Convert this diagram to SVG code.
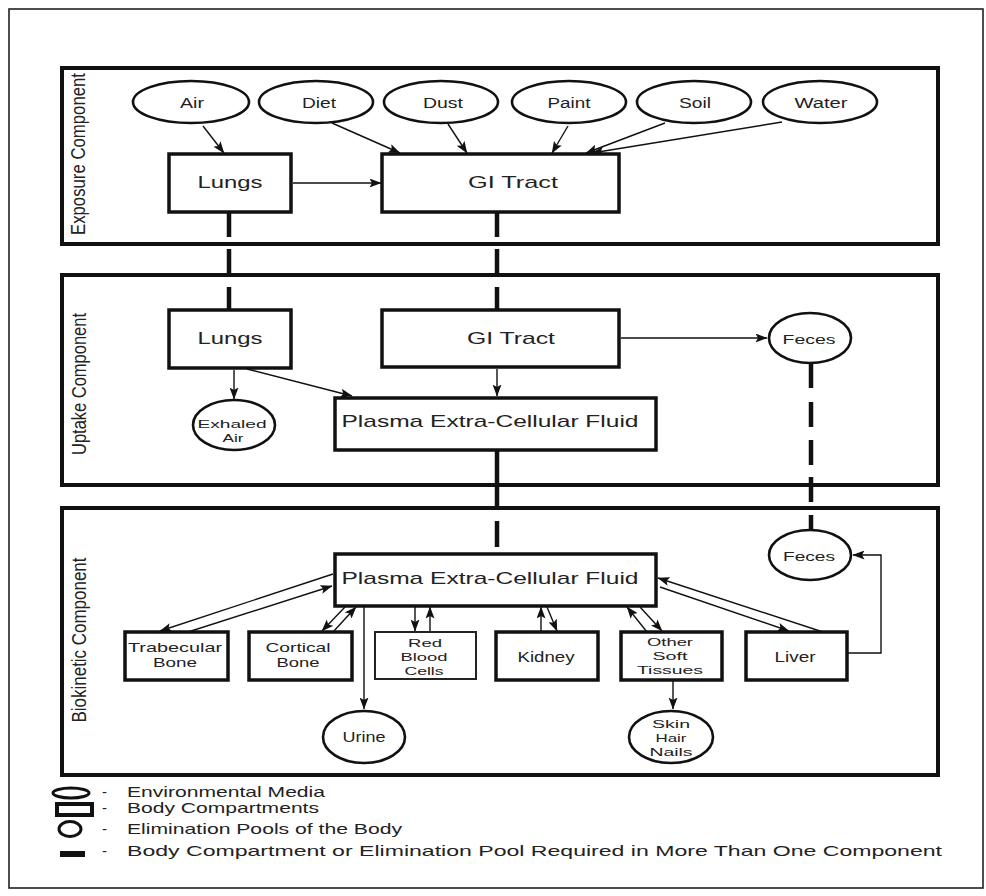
<svg xmlns="http://www.w3.org/2000/svg" width="986" height="896" viewBox="0 0 986 896">
<style>
  .sec{fill:none;stroke:#111;stroke-width:4}
  .box{fill:#fff;stroke:#111;stroke-width:3.5}
  .thin{fill:#fff;stroke:#222;stroke-width:2}
  .ell{fill:#fff;stroke:#111;stroke-width:2.6}
  .arr{fill:none;stroke:#111;stroke-width:1.4;marker-end:url(#ah)}
  .dash{stroke:#111;stroke-width:4.5;stroke-linecap:butt}
  text{font-family:"Liberation Sans",Arial,sans-serif;fill:#222}
  .lb{font-size:17px;text-anchor:middle}
  .sm{font-size:14px;text-anchor:middle}
  .xs{font-size:13px;text-anchor:middle}
  .ml{font-size:11.5px;text-anchor:middle}
  .vt{font-size:16px;text-anchor:middle}
  .lg{font-size:15px}
</style>
<defs>
  <marker id="ah" viewBox="0 0 12 9" refX="11.5" refY="4.5" markerWidth="12" markerHeight="9" markerUnits="userSpaceOnUse" orient="auto">
    <path d="M0,0 L12,4.5 L0,9 L2.5,4.5 z" fill="#111"/>
  </marker>
</defs>
<rect x="0" y="0" width="986" height="896" fill="#fff"/>
<rect x="9" y="9" width="974" height="879" fill="none" stroke="#222" stroke-width="1.6"/>

<g id="sections">
  <rect class="sec" x="62" y="68" width="876" height="176"/>
  <rect class="sec" x="62" y="275" width="876" height="210"/>
  <rect class="sec" x="62" y="508" width="876" height="267"/>
  <text class="vt" textLength="162" lengthAdjust="spacingAndGlyphs" transform="translate(85,154) scale(1.3,1) rotate(-90)">Exposure Component</text>
  <text class="vt" textLength="142" lengthAdjust="spacingAndGlyphs" transform="translate(86,384) scale(1.3,1) rotate(-90)">Uptake Component</text>
  <text class="vt" textLength="165" lengthAdjust="spacingAndGlyphs" transform="translate(86,640) scale(1.3,1) rotate(-90)">Biokinetic Component</text>
</g>

<g id="connectors">
  <path class="arr" d="M203,126 L224,153"/>
  <path class="arr" d="M332,123 L400,153"/>
  <path class="arr" d="M448,124 L467,153"/>
  <path class="arr" d="M568,126 L552,153"/>
  <path class="arr" d="M665,123 L586,153"/>
  <path class="arr" d="M782,122 L592,153"/>
  <path class="arr" d="M293,183 L381,183"/>
  <path class="arr" d="M234,370 L234,399"/>
  <path class="arr" d="M247,369 L352,396"/>
  <path class="arr" d="M497,369 L497,396"/>
  <path class="arr" d="M621,338 L767,338"/>
  <path class="arr" d="M364,607 L364,709"/>
  <path class="arr" d="M673,681 L673,709"/>
  <path class="arr" d="M847,653 L881,653 L881,555 L853,555"/>
  <path class="arr" d="M333,574 L160,631"/>
  <path class="arr" d="M188,632 L332,586"/>
  <path class="arr" d="M345,607 L322,631"/>
  <path class="arr" d="M333,632 L356,607"/>
  <path class="arr" d="M415,607 L415,631"/>
  <path class="arr" d="M430,632 L430,607"/>
  <path class="arr" d="M541,632 L541,607"/>
  <path class="arr" d="M547,607 L557,631"/>
  <path class="arr" d="M647,632 L627,607"/>
  <path class="arr" d="M640,607 L662,631"/>
  <path class="arr" d="M823,632 L658,578"/>
  <path class="arr" d="M660,587 L789,631"/>
  <line class="dash" x1="229" y1="212" x2="229" y2="237"/>
  <line class="dash" x1="229" y1="249" x2="229" y2="275"/>
  <line class="dash" x1="229" y1="287" x2="229" y2="310"/>
  <line class="dash" x1="497" y1="212" x2="497" y2="237"/>
  <line class="dash" x1="497" y1="249" x2="497" y2="275"/>
  <line class="dash" x1="497" y1="287" x2="497" y2="310"/>
  <line class="dash" x1="497" y1="450" x2="497" y2="508"/>
  <line class="dash" x1="497" y1="521" x2="497" y2="547"/>
  <line class="dash" x1="811" y1="363" x2="811" y2="388"/>
  <line class="dash" x1="811" y1="402" x2="811" y2="427"/>
  <line class="dash" x1="811" y1="440" x2="811" y2="465"/>
  <line class="dash" x1="811" y1="477" x2="811" y2="502"/>
  <line class="dash" x1="811" y1="515" x2="811" y2="530"/>
</g>

<g id="exp-air"><ellipse class="ell" cx="191" cy="102" rx="58" ry="21"/><text class="sm" x="192" y="108" textLength="24" lengthAdjust="spacingAndGlyphs">Air</text></g>
<g id="exp-diet"><ellipse class="ell" cx="316" cy="102" rx="57" ry="21"/><text class="sm" x="319" y="108" textLength="34" lengthAdjust="spacingAndGlyphs">Diet</text></g>
<g id="exp-dust"><ellipse class="ell" cx="441" cy="102" rx="57" ry="21"/><text class="sm" x="443" y="108" textLength="40" lengthAdjust="spacingAndGlyphs">Dust</text></g>
<g id="exp-paint"><ellipse class="ell" cx="569" cy="102" rx="57" ry="21"/><text class="sm" x="569" y="108" textLength="43" lengthAdjust="spacingAndGlyphs">Paint</text></g>
<g id="exp-soil"><ellipse class="ell" cx="694" cy="102" rx="57" ry="21"/><text class="sm" x="695" y="108" textLength="32" lengthAdjust="spacingAndGlyphs">Soil</text></g>
<g id="exp-water"><ellipse class="ell" cx="820" cy="102" rx="57" ry="21"/><text class="sm" x="821" y="108" textLength="53" lengthAdjust="spacingAndGlyphs">Water</text></g>

<g id="exp-lungs"><rect class="box" x="169" y="154" width="122" height="58"/><text class="lb" x="230" y="188" textLength="65" lengthAdjust="spacingAndGlyphs">Lungs</text></g>
<g id="exp-gi"><rect class="box" x="382" y="154" width="237" height="58"/><text class="lb" x="513" y="188" textLength="90" lengthAdjust="spacingAndGlyphs">GI Tract</text></g>

<g id="up-lungs"><rect class="box" x="169" y="310" width="122" height="58"/><text class="lb" x="230" y="344" textLength="65" lengthAdjust="spacingAndGlyphs">Lungs</text></g>
<g id="up-gi"><rect class="box" x="382" y="310" width="237" height="57"/><text class="lb" x="511" y="344" textLength="88" lengthAdjust="spacingAndGlyphs">GI Tract</text></g>
<g id="up-plasma"><rect class="box" x="335" y="398" width="321" height="52"/><text class="lb" x="490" y="427" textLength="297" lengthAdjust="spacingAndGlyphs">Plasma Extra-Cellular Fluid</text></g>
<g id="up-exhaled"><ellipse class="ell" cx="234" cy="425" rx="41" ry="25"/><text class="ml" x="232" y="428" textLength="69" lengthAdjust="spacingAndGlyphs">Exhaled</text><text class="ml" x="233" y="442" textLength="21" lengthAdjust="spacingAndGlyphs">Air</text></g>
<g id="up-feces"><ellipse class="ell" cx="810" cy="338" rx="41" ry="25"/><text class="xs" x="809" y="344" textLength="53" lengthAdjust="spacingAndGlyphs">Feces</text></g>

<g id="bio-plasma"><rect class="box" x="335" y="554" width="321" height="52"/><text class="lb" x="490" y="584" textLength="297" lengthAdjust="spacingAndGlyphs">Plasma Extra-Cellular Fluid</text></g>
<g id="bio-feces"><ellipse class="ell" cx="810" cy="555" rx="41" ry="25"/><text class="xs" x="809" y="561" textLength="52" lengthAdjust="spacingAndGlyphs">Feces</text></g>
<g id="bio-trabecular"><rect class="box" x="125" y="632" width="103" height="48"/><text class="xs" x="175" y="652" textLength="94" lengthAdjust="spacingAndGlyphs">Trabecular</text><text class="xs" x="175" y="667" textLength="44" lengthAdjust="spacingAndGlyphs">Bone</text></g>
<g id="bio-cortical"><rect class="box" x="249" y="632" width="103" height="48"/><text class="xs" x="298" y="652" textLength="65" lengthAdjust="spacingAndGlyphs">Cortical</text><text class="xs" x="298" y="667" textLength="43" lengthAdjust="spacingAndGlyphs">Bone</text></g>
<g id="bio-rbc"><rect class="thin" x="375" y="632" width="101" height="47"/><text class="ml" x="425" y="647" textLength="34" lengthAdjust="spacingAndGlyphs">Red</text><text class="ml" x="424" y="661" textLength="47" lengthAdjust="spacingAndGlyphs">Blood</text><text class="ml" x="424" y="675" textLength="39" lengthAdjust="spacingAndGlyphs">Cells</text></g>
<g id="bio-kidney"><rect class="box" x="496" y="632" width="102" height="48"/><text class="sm" x="546" y="662" textLength="57" lengthAdjust="spacingAndGlyphs">Kidney</text></g>
<g id="bio-ost"><rect class="box" x="621" y="632" width="101" height="48"/><text class="ml" x="670" y="646" textLength="46" lengthAdjust="spacingAndGlyphs">Other</text><text class="ml" x="670" y="660" textLength="35" lengthAdjust="spacingAndGlyphs">Soft</text><text class="ml" x="670" y="674" textLength="66" lengthAdjust="spacingAndGlyphs">Tissues</text></g>
<g id="bio-liver"><rect class="box" x="746" y="632" width="101" height="48"/><text class="sm" x="795" y="662" textLength="41" lengthAdjust="spacingAndGlyphs">Liver</text></g>
<g id="bio-urine"><ellipse class="ell" cx="364" cy="737" rx="41" ry="26"/><text class="sm" x="364" y="742" textLength="43" lengthAdjust="spacingAndGlyphs">Urine</text></g>
<g id="bio-skin"><ellipse class="ell" cx="671" cy="737" rx="42" ry="26"/><text class="ml" x="671" y="728" textLength="38" lengthAdjust="spacingAndGlyphs">Skin</text><text class="ml" x="671" y="742" textLength="31" lengthAdjust="spacingAndGlyphs">Hair</text><text class="ml" x="671" y="756" textLength="43" lengthAdjust="spacingAndGlyphs">Nails</text></g>

<g id="legend">
  <ellipse cx="71" cy="793" rx="18" ry="5" fill="none" stroke="#111" stroke-width="3"/>
  <rect x="57" y="804" width="35" height="11" fill="none" stroke="#111" stroke-width="4"/>
  <ellipse cx="70" cy="829" rx="11" ry="7.5" fill="none" stroke="#111" stroke-width="3"/>
  <rect x="60" y="851" width="25" height="6" fill="#111"/>
  <text class="lg" x="102" y="797">-<tspan x="127" textLength="198" lengthAdjust="spacingAndGlyphs">Environmental Media</tspan></text>
  <text class="lg" x="102" y="813">-<tspan x="127" textLength="192" lengthAdjust="spacingAndGlyphs">Body Compartments</tspan></text>
  <text class="lg" x="102" y="834">-<tspan x="127" textLength="275" lengthAdjust="spacingAndGlyphs">Elimination Pools of the Body</tspan></text>
  <text class="lg" x="102" y="856">-<tspan x="127" textLength="815" lengthAdjust="spacingAndGlyphs">Body Compartment or Elimination Pool Required in More Than One Component</tspan></text>
</g>
</svg>
